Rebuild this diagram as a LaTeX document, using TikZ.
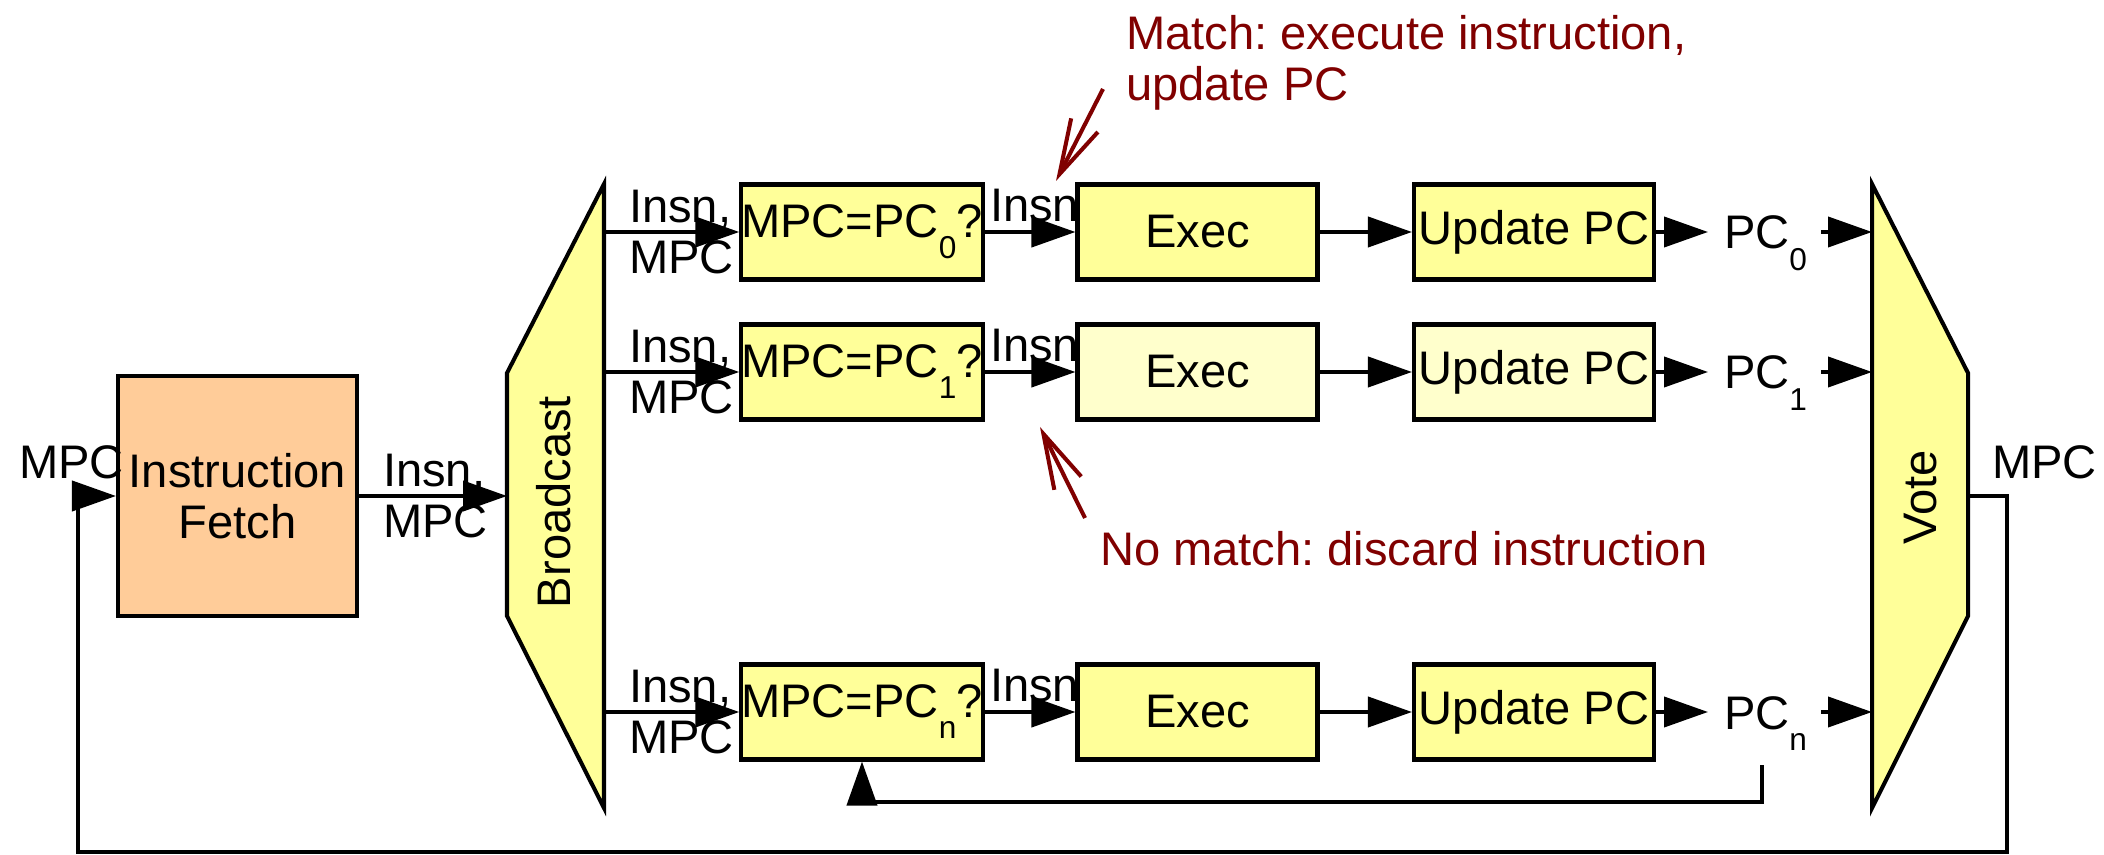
\documentclass[tikz,border=0pt]{standalone}
\usepackage{fontspec}
\setmainfont{Liberation Sans}
\usetikzlibrary{arrows.meta}
\definecolor{ylw}{HTML}{FFFF99}
\definecolor{ylwlt}{HTML}{FFFFCC}
\definecolor{fetchorange}{HTML}{FFCC99}
\definecolor{annred}{HTML}{800000}
\newcommand{\pcsub}[1]{\raisebox{-6pt}{\fontsize{9}{9}\selectfont #1}}
\frenchspacing

\begin{document}
\begin{tikzpicture}[
  font=\fontsize{13.4}{14.6}\selectfont,
  line width=1.15pt,
  box/.style={draw, fill=ylw, minimum width=2.4cm, minimum height=0.95cm, inner sep=0pt},
  lbl/.style={inner sep=0pt},
  arr/.style={-{Triangle[length=0.44cm,width=0.3cm]}},
  note/.style={annred, -{Straight Barb[length=0.55cm,width=0.3cm]}}
]
  \useasboundingbox (0,0) rectangle (21.04,-8.55);

  % fetch
  \node[box, fill=fetchorange, minimum width=2.39cm, minimum height=2.4cm, align=center] (fetch) at (2.375,-4.96) {Instruction\\Fetch};
  \node[lbl, align=left, anchor=west] (fetchout) at (3.81,-4.96) {Insn,\\MPC};

  % broadcast and vote
  \filldraw[fill=ylw] (5.07,-3.73) -- (6.04,-1.84) -- (6.04,-8.08) -- (5.07,-6.16) -- cycle;
  \node[lbl, rotate=90] (bcast) at (5.54,-5.02) {Broadcast};
  \coordinate (bcin) at (5.07,-4.96);
  \filldraw[fill=ylw] (18.72,-1.84) -- (19.68,-3.73) -- (19.68,-6.16) -- (18.72,-8.08) -- cycle;
  \node[lbl, rotate=90] (vote) at (19.21,-4.97) {Vote};
  \coordinate (vtout) at (19.68,-4.96);
  \draw[arr] (fetch.east) -- (bcin);

  % one row per replica
  \foreach \i/\y/\f in {0/-2.32/ylw, 1/-3.72/ylwlt, n/-7.12/ylw} {
    \coordinate (bo\i) at (6.04,\y);
    \coordinate (vi\i) at (18.72,\y);
    \node[box] (cmp\i) at (8.62,\y) {MPC=PC\pcsub{\i}?};
    \node[box, fill=\f] (exec\i) at (11.975,\y) {Exec};
    \node[box, fill=\f] (upd\i) at (15.34,\y) {Update PC};
    \node[lbl, align=left, anchor=west] (in\i) at (6.27,\y) {Insn,\\MPC};
    \node[lbl, anchor=base west] (is\i) at (9.88,\y+0.1) {Insn};
    \node[lbl, anchor=base west] (pc\i) at (17.22,\y-0.17) {PC\pcsub{\i}};
    \draw[arr] (bo\i) -- (cmp\i);
    \draw[arr] (cmp\i) -- (exec\i);
    \draw[arr] (exec\i) -- (upd\i);
    \draw[arr, shorten >=0.14cm] (upd\i) -- (upd\i -| pc\i.west);
    \draw[arr, shorten <=0.12cm] (pc\i.east |- vi\i) -- (vi\i);
  }

  % feedback loops
  \coordinate (fb) at (17.62,-7.65);
  \draw[arr] (fb) -- ++(0,-0.37) -| (cmpn.south);
  \coordinate (lp) at (0.78,-8.52);
  \draw[arr] (vtout) -- ++(0.39,0) |- (lp) |- (fetch.west);
  \node[lbl, anchor=base west] (mpcin) at (0.17,-4.79) {MPC};
  \node[lbl, anchor=base west] (mpcout) at (19.90,-4.79) {MPC};

  % notes
  \node[lbl, annred, align=left, anchor=north west] (matchtxt) at (11.24,-0.13) {Match: execute instruction,\\update PC};
  \node[lbl, annred, anchor=base west] (nomatchtxt) at (10.98,-5.66) {No match: discard instruction};
  \coordinate (m0) at (11.03,-0.89);
  \coordinate (m1) at (10.56,-1.81);
  \coordinate (d0) at (10.85,-5.18);
  \coordinate (d1) at (10.40,-4.27);
  \draw[note] (m0) -- (m1);
  \draw[note] (d0) -- (d1);
\end{tikzpicture}
\end{document}
